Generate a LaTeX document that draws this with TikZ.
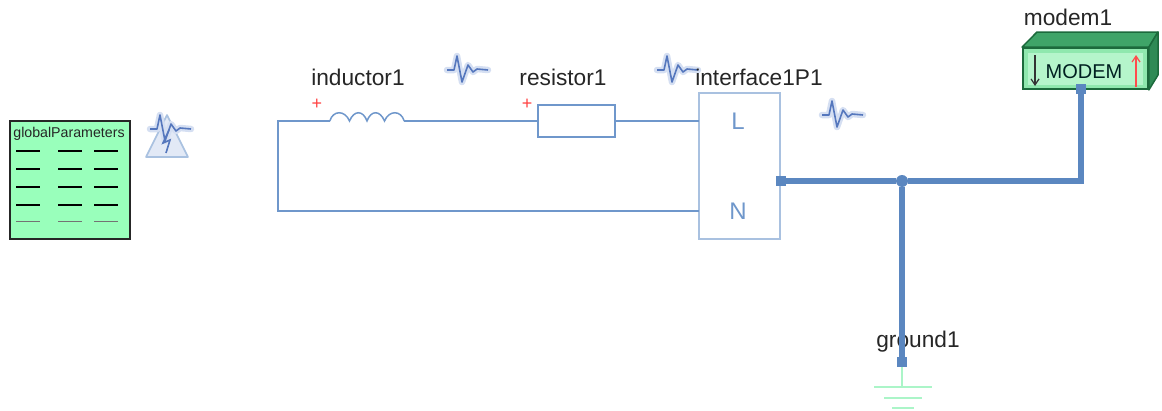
\documentclass[tikz,border=0pt]{standalone}
\usepackage{fontspec}
\setmainfont{Liberation Sans}
\usetikzlibrary{arrows.meta, positioning}
\definecolor{wireblue}{HTML}{5B87C0}
\definecolor{thinblue}{HTML}{6F97CB}
\definecolor{boxblue}{HTML}{A9C1E0}
\definecolor{paramgreen}{HTML}{99FFBB}
\definecolor{groundgreen}{HTML}{ABF5C8}
\definecolor{modemfront}{HTML}{8FE8AE}
\definecolor{modemlight}{HTML}{B5F5CB}
\definecolor{modemtop}{HTML}{3FA468}
\definecolor{modemside}{HTML}{2F8A55}
\definecolor{modemline}{HTML}{1C6A3C}
\definecolor{iconblue}{HTML}{5577BD}
\definecolor{iconhalo}{HTML}{D5DFF2}
\begin{document}
\begin{tikzpicture}[
                x=1pt, y=-1pt,
                every node/.style={font=\fontsize{22.7}{24}\selectfont, inner sep=0pt, text=black!85},
                label text/.style={anchor=center},
                wire/.style={draw=thinblue, line width=1.5pt},
                bus/.style={draw=wireblue, line width=5.5pt},
                port/.style={rectangle, fill=wireblue, minimum size=10pt},
                resistorbox/.style={rectangle, draw=thinblue, line width=1.5pt, fill=white, minimum width=77pt, minimum height=32pt},
                interfacebox/.style={rectangle, draw=boxblue, line width=2pt, fill=white, minimum width=81pt, minimum height=146pt},
                coilbox/.style={rectangle, minimum width=74pt, minimum height=12pt},
                pinletter/.style={text=thinblue, font=\fontsize{24}{24}\selectfont},
                polarity/.style={text=red!75, font=\fontsize{18}{20}\selectfont},
                paramline/.style={line width=1.5pt, black},
                groundline/.style={draw=groundgreen, line width=2.6pt},
                signal/.pic={
                    \draw [iconhalo, line width=6.5pt, line join=round, line cap=round] (-20,0) -- (-13,0) -- (-10,-14) -- (-5,12) -- (1,-5) -- (6,2) -- (10,-1) -- (21,0);
                    \draw [iconblue, line width=1.6pt, line join=round] (-20,0) -- (-13,0) -- (-10,-14) -- (-5,12) -- (1,-5) -- (6,2) -- (10,-1) -- (21,0);
                }
            ]
                \useasboundingbox (0,0) rectangle (1162,410);

                % Parameters block
                \node (globalParameters) [rectangle, draw=black!85, line width=1.8pt, fill=paramgreen, minimum width=120pt, minimum height=118pt] at (70,180) {};
                \node (paramTitle) [font=\fontsize{14.2}{15}\selectfont] at (69,134) {globalParameters};
                \foreach \y in {151,169,187,205}
                    \foreach \x in {16,58,94}
                        \draw [paramline] (\x,\y) -- (\x+24,\y);
                \foreach \x in {16,58,94}
                    \draw [line width=1pt, black!55] (\x,221) -- (\x+24,221);

                % Warning icon
                \draw [draw=boxblue, line width=1.6pt, fill=iconhalo!70, line join=round] (146,157) -- (167,115) -- (188,157) -- cycle;
                \pic at (170,129) {signal};
                \draw [iconblue, line width=1.6pt] (169,130) -- (163,143) -- (170,140) -- (166,153);

                % Signal icons
                \pic at (467,70) {signal};
                \pic at (677,70) {signal};
                \pic at (842,115) {signal};

                % Nodes
                \node (inductor1) [coilbox] at (367,121) {};
                \node (resistor1) [resistorbox] at (576.5,121) {};
                \node (interface1P1) [interfacebox] at (739.5,166) {};
                \node (pinL) [pinletter] at (738,121) {L};
                \node (pinN) [pinletter] at (738,211) {N};
                \node (inductorText) [label text] at (358,77) {inductor1};
                \node (resistorText) [label text] at (563,77) {resistor1};
                \node (interfaceText) [label text] at (759,77) {interface1P1};
                \node (modemText) [label text] at (1068,17) {modem1};
                \node (groundText) [label text] at (918,342) {ground1};
                \node (plusL) [polarity] at (317,104) {+};
                \node (plusR) [polarity] at (527,104) {+};

                \coordinate (cornerTop) at (278,121);
                \coordinate (cornerBottom) at (278,211);
                \coordinate (interfaceL) at (699,121);
                \coordinate (interfaceN) at (699,211);
                \coordinate (cornerModem) at (1081,181);
                \coordinate (groundEnd) at (902,387);

                % Coil
                \draw [wire] (inductor1.west) .. controls (333,110) and (345,110) .. (349.5,121)
                    .. controls (354,110) and (363,110) .. (367,121)
                    .. controls (371,110) and (380,110) .. (384.5,121)
                    .. controls (389,110) and (401,110) .. (inductor1.east);

                % Modem
                \node (modem1) [rectangle, draw=modemline, line width=1.8pt, fill=modemfront, minimum width=125pt, minimum height=41pt] at (1085.5,68.5) {};
                \fill [modemlight] (1028,53) rectangle (1143,85);
                \draw [draw=modemline, line width=1.5pt, fill=modemtop, line join=round] (modem1.north west) -- (1037,32) -- (1158,32) -- (modem1.north east) -- cycle;
                \draw [draw=modemline, line width=1.5pt, fill=modemside, line join=round] (modem1.north east) -- (1158,32) -- (1158,75) -- (modem1.south east) -- cycle;
                \node (modemLabel) [text=black!75!teal, font=\fontsize{20}{20}\selectfont] at (1084,72) {MODEM};
                \draw [-{Straight Barb[length=6pt,width=8pt]}, line width=1.2pt, black!80] (1035,55) -- (1035,86);
                \draw [-{Straight Barb[length=6pt,width=8pt]}, line width=1.2pt, red!70] (1136,87) -- (1136,55);

                % Ground
                \node (ground1) [port] at (902,362) {};
                \draw [groundline] (ground1) -- (groundEnd);
                \draw [groundline] (874,387) -- (932,387);
                \draw [groundline] (884,398) -- (922,398);
                \draw [groundline] (892,408) -- (914,408);

                % Ports
                \node (interfacePort) [port] at (781,181) {};
                \node (modemPort) [port] at (1081,89) {};
                \node (junction1) [circle, fill=wireblue, minimum size=12pt] at (902,181) {};

                % Arrows
                \draw [wire] (inductor1.west) -- (cornerTop) -- (cornerBottom) -- (interfaceN);
                \draw [wire] (inductor1.east) -- (resistor1.west);
                \draw [wire] (resistor1.east) -- (interfaceL);
                \draw [bus] (interfacePort) -- (junction1);
                \draw [bus, line join=miter] (junction1) -- (cornerModem) -- (modemPort);
                \draw [bus] (junction1) -- (ground1);

            \end{tikzpicture}
\end{document}
